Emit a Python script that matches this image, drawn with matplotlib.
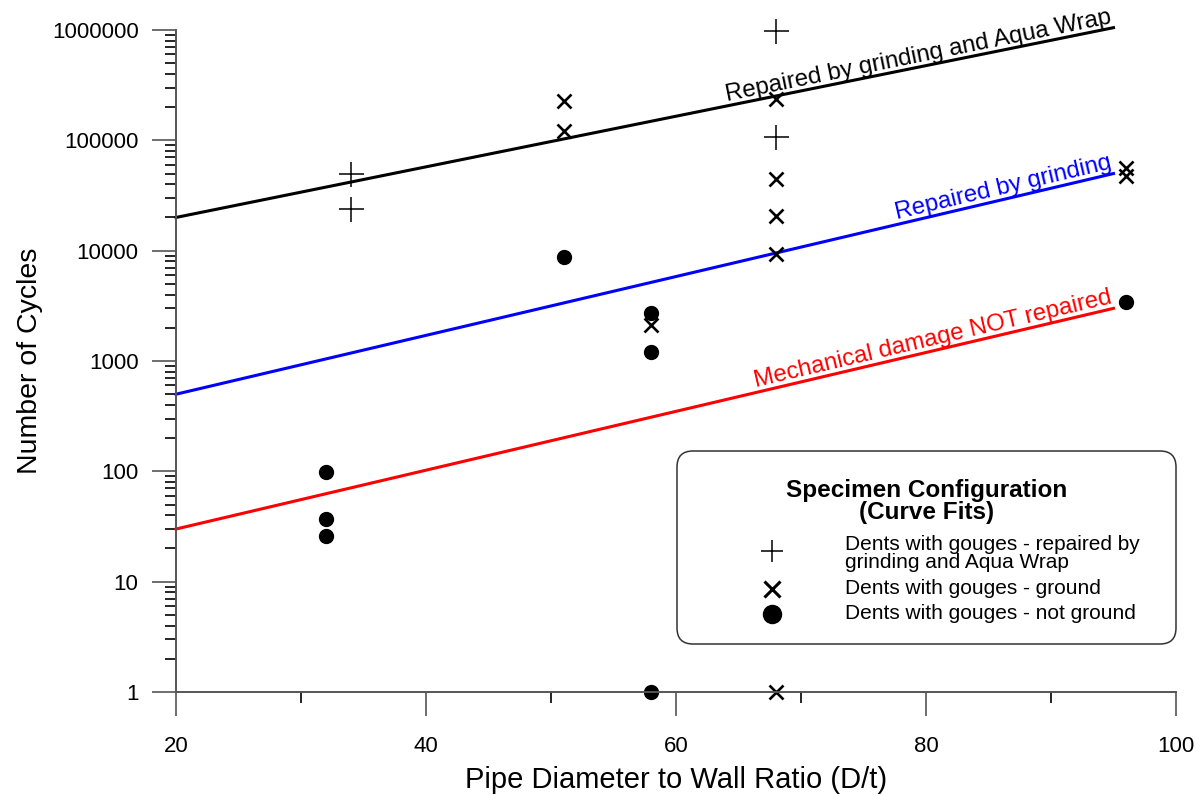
import numpy as np
import matplotlib
matplotlib.use('Agg')
import matplotlib.pyplot as plt
from matplotlib.patches import FancyBboxPatch
from matplotlib.ticker import FixedLocator, NullFormatter, LogLocator

plt.rcParams['font.family'] = ['Liberation Sans', 'DejaVu Sans']

# Dents with gouges - repaired by grinding and Aqua Wrap
aqua_x = [34, 34, 68, 68]
aqua_y = [50000, 24000, 980000, 108000]
# Dents with gouges - ground
ground_x = [51, 51, 58, 68, 68, 68, 68, 68, 96, 96]
ground_y = [225000, 122000, 2100, 235000, 45000, 20500, 9300, 1, 56000, 48000]
# Dents with gouges - not ground
notground_x = [32, 32, 32, 51, 58, 58, 58, 96]
notground_y = [98, 37, 26, 8800, 2750, 1200, 1, 3400]

# curve fits (end points)
fit_x = [20, 95]
fit_aqua = [20000, 1050000]
fit_grind = [500, 50000]
fit_none = [30, 3000]
fit_names = ['Repaired by grinding and Aqua Wrap', 'Repaired by grinding',
             'Mechanical damage NOT repaired']

x_ticks = [20, 40, 60, 80, 100]
x_minor = [30, 50, 70, 90]
y_ticks = [1, 10, 100, 1000, 10000, 100000, 1000000]
y_labels = ['1', '10', '100', '1000', '10000', '100000', '1000000']

legend_title = ['Specimen Configuration', '(Curve Fits)']
legend_labels = ['Dents with gouges - repaired by\ngrinding and Aqua Wrap',
                 'Dents with gouges - ground',
                 'Dents with gouges - not ground']

fig = plt.figure(figsize=(12.04, 7.95), dpi=100)
ax = fig.add_axes([176 / 1204, 103 / 795, 1000 / 1204, 662 / 795])
ax.set_yscale('log')
ax.set_xlim(20, 100)
ax.set_ylim(1, 1000000)

for s in ['top', 'right']:
    ax.spines[s].set_visible(False)
for s in ['left', 'bottom']:
    ax.spines[s].set_color('#555555')
    ax.spines[s].set_linewidth(1.4)

ax.xaxis.set_major_locator(FixedLocator(x_ticks))
ax.xaxis.set_minor_locator(FixedLocator(x_minor))
ax.set_xticklabels([str(v) for v in x_ticks])
ax.yaxis.set_major_locator(FixedLocator(y_ticks))
ax.set_yticklabels(y_labels)
ax.yaxis.set_minor_locator(LogLocator(base=10, subs=np.arange(2, 10)))
ax.yaxis.set_minor_formatter(NullFormatter())
ax.tick_params(which='major', direction='out', length=17, width=1.2, color='#555555',
               labelsize=16, pad=10)
ax.tick_params(which='minor', direction='out', length=8, width=1.2, color='black')
ax.tick_params(axis='x', which='major', pad=14.5)

ax.set_xlabel('Pipe Diameter to Wall Ratio (D/t)', fontsize=21, labelpad=7)
ax.set_ylabel('Number of Cycles', fontsize=20.5, labelpad=6)

colors = ['black', 'blue', 'red']
for fy, c, name in zip([fit_aqua, fit_grind, fit_none], colors, fit_names):
    ax.plot(fit_x, fy, color=c, lw=2.2, clip_on=False)
    p1 = ax.transData.transform((fit_x[0], fy[0]))
    p2 = ax.transData.transform((fit_x[1], fy[1]))
    ang = np.degrees(np.arctan2(p2[1] - p1[1], p2[0] - p1[0]))
    ax.text(fit_x[1], fy[1], name, color=c, fontsize=17.3, rotation=ang,
            rotation_mode='anchor', ha='right', va='bottom')

ax.plot(aqua_x, aqua_y, ls='none', marker='+', ms=18, mew=1.1, color='black', clip_on=False)
ax.plot(ground_x, ground_y, ls='none', marker='x', ms=9.5, mew=1.9, color='black', clip_on=False)
ax.plot(notground_x, notground_y, ls='none', marker='o', ms=10, color='black', clip_on=False)

# legend box
box = FancyBboxPatch((6.77, 1.51), 4.99, 1.93, boxstyle='round,pad=0,rounding_size=0.16',
                     transform=fig.dpi_scale_trans, fc='white', ec='#333333', lw=1.1,
                     clip_on=False, zorder=3)
ax.add_patch(box)
ax.text(0.751, 0.305, legend_title[0], transform=ax.transAxes, ha='center', va='center',
        fontsize=17.5, fontweight='bold', zorder=4)
ax.text(0.751, 0.271, legend_title[1], transform=ax.transAxes, ha='center', va='center',
        fontsize=17.5, fontweight='bold', zorder=4)
ax.text(0.669, 0.209, legend_labels[0], transform=ax.transAxes, ha='left', va='center',
        fontsize=15, linespacing=0.92, zorder=4)
ax.text(0.669, 0.157, legend_labels[1], transform=ax.transAxes, ha='left', va='center',
        fontsize=15, zorder=4)
ax.text(0.669, 0.118, legend_labels[2], transform=ax.transAxes, ha='left', va='center',
        fontsize=15, zorder=4)
ax.plot([0.5957], [0.2137], transform=ax.transAxes, marker='+', ms=16, mew=1.1,
        color='black', clip_on=False, zorder=4)
ax.plot([0.5957], [0.1556], transform=ax.transAxes, marker='x', ms=12, mew=2.2,
        color='black', clip_on=False, zorder=4)
ax.plot([0.5957], [0.118], transform=ax.transAxes, marker='o', ms=13, color='black',
        clip_on=False, zorder=4)

fig.savefig('out.png', dpi=100)
